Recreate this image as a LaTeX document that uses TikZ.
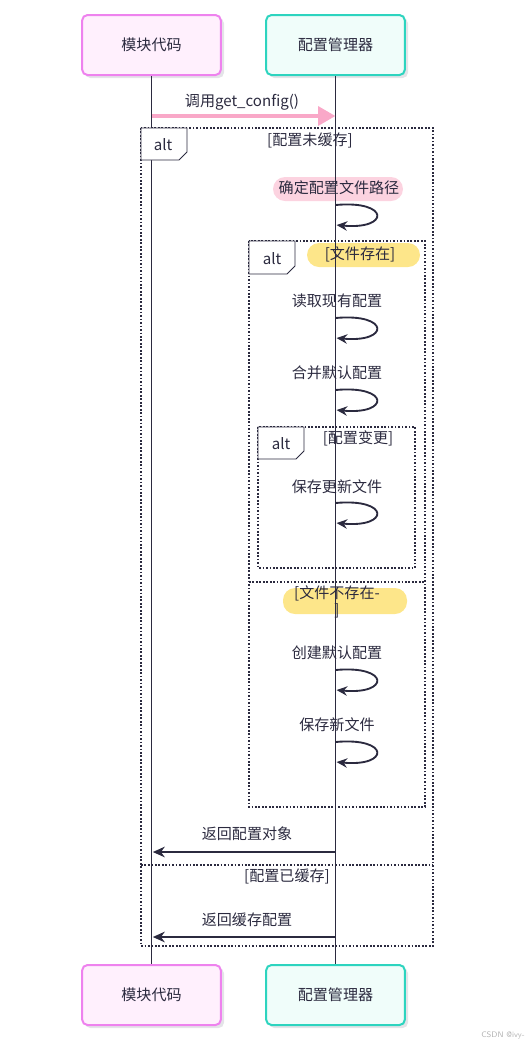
\documentclass[tikz,border=0pt]{standalone}
\usepackage{fontspec}
\setmainfont{Noto Sans CJK SC}
\usetikzlibrary{arrows.meta}
\definecolor{ink}{HTML}{2B2A3F}
\definecolor{pinkfill}{HTML}{FFF0FD}
\definecolor{pinkline}{HTML}{EE82EE}
\definecolor{tealfill}{HTML}{F0FDFA}
\definecolor{tealline}{HTML}{2DD4BF}
\definecolor{callpink}{HTML}{F9A8C8}
\definecolor{hlpink}{HTML}{FCD3E0}
\definecolor{hlyellow}{HTML}{FDE68A}
\definecolor{shadowc}{HTML}{E4E4E8}
\tikzset{
  actor/.style={draw, line width=1.5pt, rounded corners=4pt, minimum width=104pt, minimum height=45pt, font=\fontsize{11.3}{13}\selectfont, text=ink},
  actA/.style={actor, fill=pinkfill, draw=pinkline},
  actB/.style={actor, fill=tealfill, draw=tealline},
  shadowbox/.style={fill=shadowc, rounded corners=4pt},
  life/.style={draw=ink, line width=1.4pt},
  frame/.style={draw=ink, line width=1.2pt, dash pattern=on 1.3pt off 1.3pt},
  tag/.style={draw=ink, line width=0.6pt, fill=white},
  lbl/.style={font=\fontsize{11.3}{13}\selectfont, text=ink, inner sep=1pt},
  msg/.style={draw=ink, line width=1.4pt, -{Stealth[length=9pt,width=8pt]}},
  loop/.style={draw=ink, line width=1.4pt, -{Stealth[length=8pt,width=7pt]}},
  hl/.style={rounded corners=9pt},
}
\begin{document}
\begin{tikzpicture}[x=0.75pt,y=-0.75pt]
\useasboundingbox (0,0) rectangle (530,1047);
% shadows
\fill[shadowbox] (85,18) rectangle (224,78);
\fill[shadowbox] (269,18) rectangle (408,78);
\fill[shadowbox] (85,968) rectangle (224,1028);
\fill[shadowbox] (269,968) rectangle (408,1028);
% actors
\node[actA] (A1) at (151.5,45) {模块代码};
\node[actB] (B1) at (335.5,45) {配置管理器};
\node[actA] (A2) at (151.5,995) {模块代码};
\node[actB] (B2) at (335.5,995) {配置管理器};

% coordinates on lifelines
\coordinate (a116) at (151.5,116);
\coordinate (b116) at (335.5,116);
\coordinate (a852) at (151.5,852);
\coordinate (b852) at (335.5,852);
\coordinate (a937) at (151.5,937);
\coordinate (b937) at (335.5,937);

% outer frame
\draw[frame] (141,128) rectangle (433,946);
\node[lbl] (g1) at (310,140) {[配置未缓存]};
\draw[frame] (141,865) -- (433,865);
\node[lbl] (g2) at (287,876) {[配置已缓存]};

% step 1
\fill[hlpink, hl] (273,177) rectangle (403,201);
\node[lbl] (s1) at (339,188) {确定配置文件路径};

% inner frame 2
\draw[frame] (249,241) rectangle (425,807);
\draw[tag] (249,241) -- (295,241) -- (295,266) -- (287,274) -- (249,274) -- cycle;
\node[lbl] (t2) at (272,259) {alt};
\fill[hlyellow, hl] (307,243) rectangle (420,267);
\node[lbl] (g3) at (360,254) {[文件存在]};

\node[lbl] (s2) at (337,301) {读取现有配置};
\node[lbl] (s3) at (337,373) {合并默认配置};

% inner frame 3
\draw[frame] (258,427) rectangle (415,568);
\draw[tag] (258,427) -- (304,427) -- (304,451) -- (296,459) -- (258,459) -- cycle;
\node[lbl] (t3) at (281,444) {alt};
\node[lbl] (g4) at (358,438) {[配置变更]};

\node[lbl] (s4) at (337,487) {保存更新文件};

% else divider in frame 2
\draw[frame] (249,582) -- (425,582);
\fill[hlyellow, hl] (283,588) rectangle (407,614);
\node[lbl, align=center] (g5) at (337,602) {[文件不存在-\\]};

\node[lbl] (s5) at (337,653) {创建默认配置};
\node[lbl] (s6) at (337,725) {保存新文件};

\node[lbl] (c1) at (242,102) {调用get\_config()};
\node[lbl] (r1) at (247,834) {返回配置对象};
\node[lbl] (r2) at (247,920) {返回缓存配置};

% lifelines (drawn over labels and highlights)
\draw[life] (A1.south) -- (A2.north);
\draw[life] (B1.south) -- (B2.north);

% outer alt tag (covers the lifeline)
\draw[tag] (141,128) -- (187,128) -- (187,152) -- (179,160) -- (141,160) -- cycle;
\node[lbl] (t1) at (163,145) {alt};

% call
\draw[draw=callpink, line width=3pt, -{Triangle[length=13pt,width=14pt]}] (a116) -- (b116);

% self loops
\coordinate (l1a) at (335.5,205);
\coordinate (l1b) at (336.5,225);
\draw[loop] (l1a) .. controls (390,200) and (390,230) .. (l1b);
\coordinate (l2a) at (335.5,318);
\coordinate (l2b) at (336.5,338);
\draw[loop] (l2a) .. controls (390,313) and (390,343) .. (l2b);
\coordinate (l3a) at (335.5,390);
\coordinate (l3b) at (336.5,410);
\draw[loop] (l3a) .. controls (390,385) and (390,415) .. (l3b);
\coordinate (l4a) at (335.5,503);
\coordinate (l4b) at (336.5,523);
\draw[loop] (l4a) .. controls (390,498) and (390,528) .. (l4b);
\coordinate (l5a) at (335.5,670);
\coordinate (l5b) at (336.5,690);
\draw[loop] (l5a) .. controls (390,665) and (390,695) .. (l5b);
\coordinate (l6a) at (335.5,742);
\coordinate (l6b) at (336.5,762);
\draw[loop] (l6a) .. controls (390,737) and (390,767) .. (l6b);

% returns
\draw[msg] (b852) -- ([xshift=1pt]a852);
\draw[msg] (b937) -- ([xshift=1pt]a937);

% watermark
\node[font=\fontsize{6}{7}\selectfont\sffamily, text=gray!60, inner sep=0pt] (wm) at (503,1035) {CSDN @ivy-};
\end{tikzpicture}
\end{document}
